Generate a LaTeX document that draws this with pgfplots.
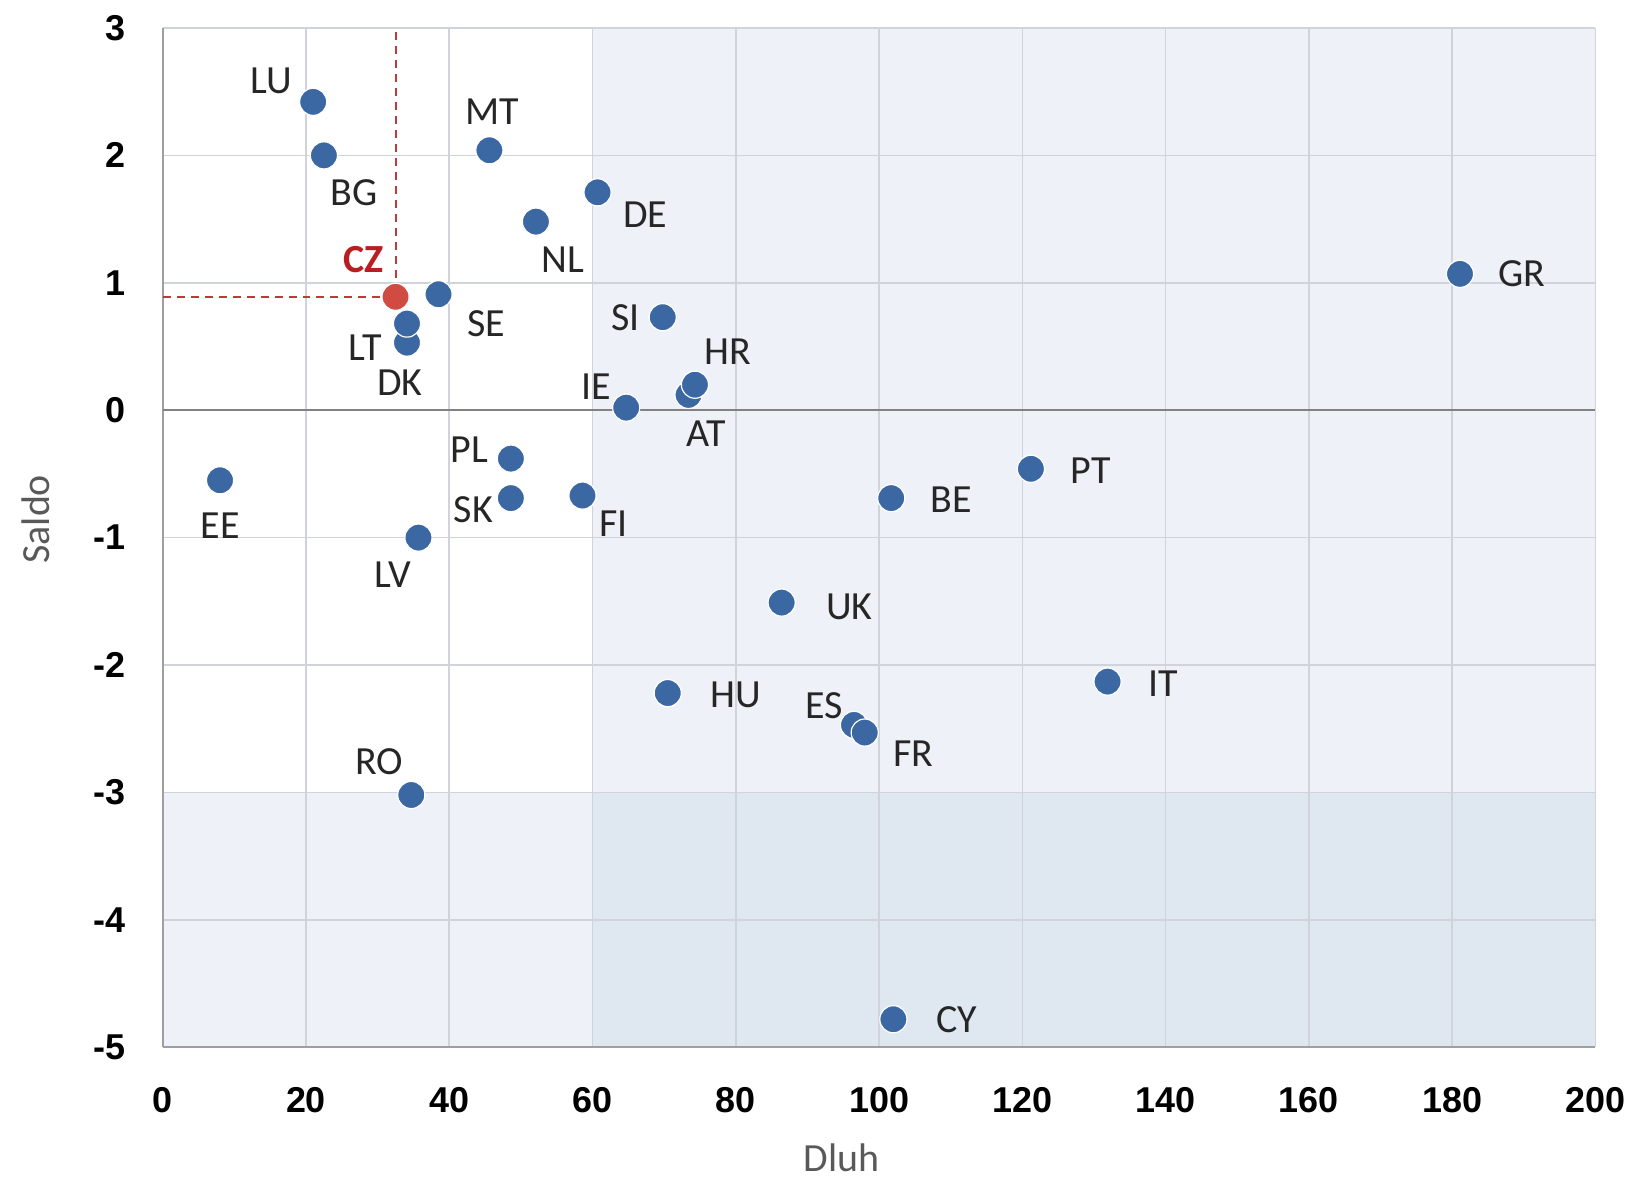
\documentclass[border=0pt]{standalone}
\usepackage{fontspec}
\setmainfont{Carlito}
\newfontfamily\tickfont{Liberation Sans}
\usepackage{pgfplots}
\pgfplotsset{compat=1.18}
\usepackage{pgfplotstable}

\definecolor{ptblue}{RGB}{59,104,163}
\definecolor{czred}{RGB}{208,76,66}
\definecolor{czlab}{RGB}{185,30,35}
\definecolor{shadeA}{RGB}{238,242,248}
\definecolor{shadeB}{RGB}{223,231,241}
\definecolor{gridc}{RGB}{208,212,218}
\definecolor{labc}{RGB}{38,38,38}
\definecolor{axc}{RGB}{89,89,89}
\definecolor{zeroc}{RGB}{130,130,130}
\definecolor{dashc}{RGB}{185,60,60}

\pgfplotstableread{
x y dx dy label
21.0 2.42 -20.8 10.4 LU
22.5 2.00 15 -18.7 BG
45.6 2.04 1.6 19.2 MT
60.7 1.71 24 -11 DE
52.1 1.48 13.5 -19.2 NL
38.5 0.91 24 -14.6 SE
34.1 0.53 -3.6 -19.8 DK
34.1 0.68 -20.8 -12 LT
69.8 0.73 -18.7 0 SI
73.4 0.12 8.8 -19.2 AT
74.3 0.20 16.6 16.6 HR
64.7 0.02 -15 10.4 IE
181.1 1.07 31 0 GR
48.6 -0.38 -20.8 4.7 PL
8.0 -0.55 0 -22.9 EE
48.6 -0.69 -18.7 -5.7 SK
58.6 -0.67 15.6 -14 FI
35.7 -1.00 -13 -18.7 LV
121.2 -0.46 30 -1 PT
101.7 -0.69 30 -1 BE
86.4 -1.51 34 -2 UK
70.5 -2.22 34 -1 HU
131.9 -2.13 28 -1 IT
96.5 -2.47 -15 9.4 ES
98.0 -2.53 24.4 -10.4 FR
34.7 -3.02 -16 16.6 RO
102.0 -4.78 31.7 0 CY
}\countries

\begin{document}
\begin{tikzpicture}
\begin{axis}[
  set layers,
  scale only axis, width=717.5pt, height=510.5pt,
  xmin=0, xmax=200, ymin=-5, ymax=3,
  xtick={0,20,...,200}, ytick={-5,-4,...,3},
  grid=major, major grid style={gridc, line width=0.8pt},
  axis lines=left, axis line style={-, draw=gray!75, line width=1pt},
  major tick length=0pt,
  /pgf/number format/assume math mode=true,
  tick label style={font=\tickfont\bfseries\fontsize{18}{18}\selectfont, text=black},
  x tick label style={yshift=-16.5pt},
  y tick label style={xshift=-15pt},
  xlabel={Dluh}, ylabel={Saldo},
  label style={font=\fontsize{20}{24}\selectfont, text=axc},
  xlabel style={at={(axis description cs:0.474,-0.1087)}, anchor=center},
  ylabel style={at={(axis description cs:-0.0885,0.518)}, anchor=center},
  clip=false,
]
% background regions
\addplot[draw=none, fill=shadeA, on layer=axis background] coordinates {(60,-3) (200,-3) (200,3) (60,3)};
\addplot[draw=none, fill=shadeA, on layer=axis background] coordinates {(0,-5) (60,-5) (60,-3) (0,-3)};
\addplot[draw=none, fill=shadeB, on layer=axis background] coordinates {(60,-5) (200,-5) (200,-3) (60,-3)};
% zero line
\addplot[zeroc, line width=1.1pt] coordinates {(0,0) (200,0)};
% CZ guide lines
\addplot[dashc, line width=1pt, dash pattern=on 4pt off 3pt] coordinates {(0,0.89) (32.5,0.89) (32.5,3)};
% countries
\addplot[only marks, mark=*, mark size=6.8pt,
  mark options={fill=ptblue, draw=white, line width=0.6pt},
  nodes near coords, point meta=explicit symbolic,
  visualization depends on={\thisrow{dx}\as\dx},
  visualization depends on={\thisrow{dy}\as\dy},
  every node near coord/.append style={anchor=center, xshift=\dx pt, yshift=\dy pt,
     font=\fontsize{20}{24}\selectfont, text=labc}]
  table[x=x, y=y, meta=label]{\countries};
% CZ
\addplot[only marks, mark=*, mark size=6.8pt,
  mark options={fill=czred, draw=white, line width=0.6pt},
  nodes near coords, point meta=explicit symbolic,
  every node near coord/.append style={anchor=center, xshift=-16pt, yshift=18.7pt,
     font=\bfseries\fontsize{20}{24}\selectfont, text=czlab}]
  coordinates {(32.5,0.89) [CZ]};
\end{axis}
\path ([shift={(-81.5pt,-65.5pt)}]current axis.south west) rectangle ([shift={(17pt,14pt)}]current axis.north east);
\end{tikzpicture}
\end{document}
